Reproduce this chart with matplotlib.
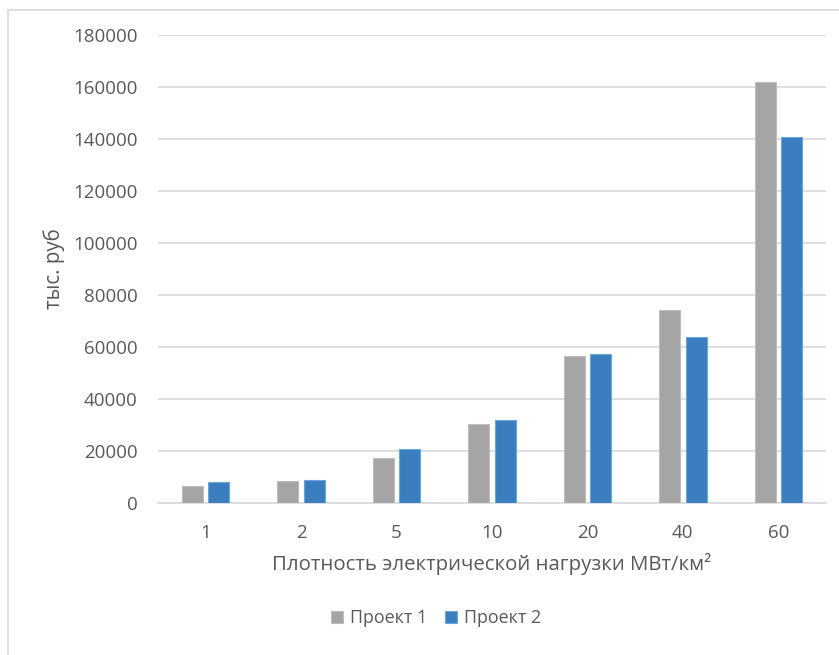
import matplotlib
matplotlib.use("Agg")
import matplotlib.pyplot as plt
from matplotlib.patches import Rectangle
import numpy as np

plt.rcParams['font.family'] = ['Open Sans', 'DejaVu Sans']

categories = ["1", "2", "5", "10", "20", "40", "60"]
project1 = [6500, 8400, 17300, 30400, 56700, 74100, 162000]
project2 = [8000, 8700, 20600, 32100, 57500, 63700, 140800]
series_names = ["Проект 1", "Проект 2"]
yticks = [0, 20000, 40000, 60000, 80000, 100000, 120000, 140000, 160000, 180000]

W, H = 839, 655
fig = plt.figure(figsize=(W / 100, H / 100), dpi=100)

# light chart-area frame
fig.patches.append(Rectangle((8 / W, -0.1), 1.2, 1 - 10 / H + 0.1,
                             transform=fig.transFigure, fill=False,
                             edgecolor="#D9D9D9", linewidth=1.2))

ax = fig.add_axes([158 / W, (H - 503) / H, (826 - 158) / W, (503 - 35) / H])

x = np.arange(len(categories))
bw = 0.22
off = 0.139
text_color = "#595959"

ax.bar(x - off, project1, bw, color="#A5A5A5", edgecolor="#BDBDBD",
       linewidth=0.8, label=series_names[0], zorder=3)
ax.bar(x + off, project2, bw, color="#3A7EBF", edgecolor="#6BA5DA",
       linewidth=0.8, label=series_names[1], zorder=3)

ax.set_xlim(-0.5, len(categories) - 0.5)
ax.set_ylim(0, 180000)
ax.set_yticks(yticks)
ax.set_yticklabels([str(v) for v in yticks])
ax.set_xticks(x)
ax.set_xticklabels(categories)
ax.yaxis.grid(True, color="#D9D9D9", linewidth=1.2, zorder=0)
ax.set_axisbelow(True)
for s in ["top", "right", "left"]:
    ax.spines[s].set_visible(False)
ax.spines["bottom"].set_color("#D9D9D9")
ax.spines["bottom"].set_linewidth(1.2)
ax.tick_params(axis="both", length=0, colors=text_color, labelsize=13.5)
ax.tick_params(axis="y", pad=14.5)
ax.tick_params(axis="x", pad=15)

ax.set_ylabel("тыс. руб", color=text_color, fontsize=14.8, labelpad=6)
ax.set_xlabel("Плотность электрической нагрузки МВт/км²", color=text_color,
              fontsize=14.7, labelpad=8)

leg = fig.legend(loc="center", bbox_to_anchor=(436 / W, (H - 618) / H),
                 ncol=2, frameon=False, fontsize=12.9, handlelength=0.65,
                 handleheight=0.65, handletextpad=0.4, columnspacing=1.0,
                 labelcolor=text_color)

fig.savefig("out.png", dpi=100, facecolor="white")
